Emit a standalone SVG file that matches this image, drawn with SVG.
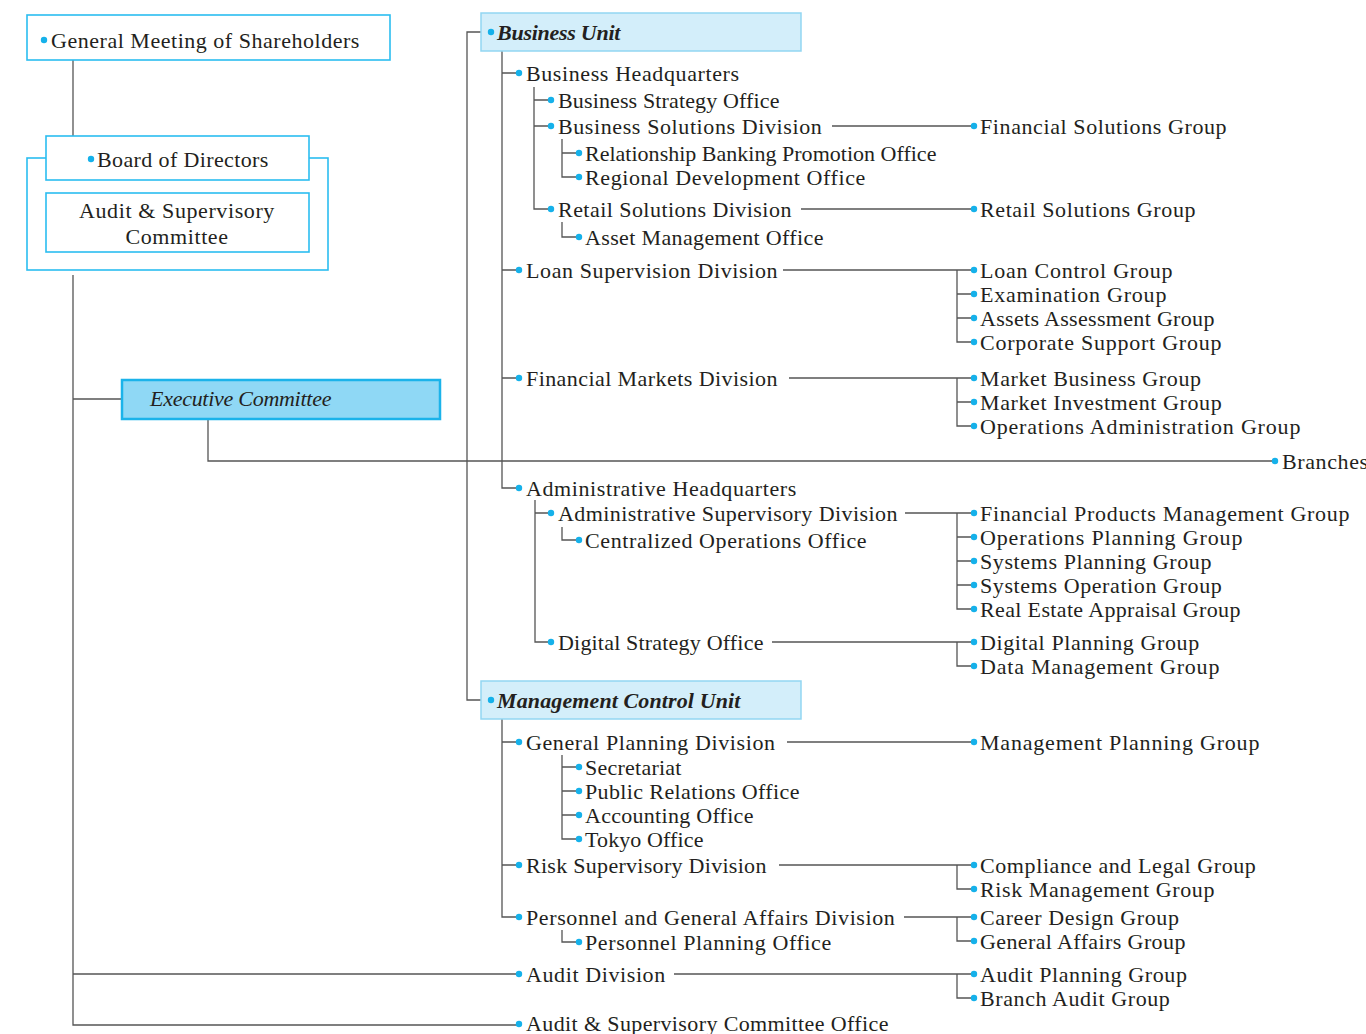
<svg xmlns="http://www.w3.org/2000/svg" width="1366" height="1034" viewBox="0 0 1366 1034">
<style>
text{font-family:"Liberation Serif","Times New Roman",serif;font-size:22px;fill:#231f20;letter-spacing:0.6px}
.ln{fill:none;stroke:#555;stroke-width:1.3}
.b{fill:#15b1ea}
.box{fill:#fff;stroke:#2bbdf0;stroke-width:1.6}
.unit{fill:#d3eefa;stroke:#92d6f2;stroke-width:1.5}
.exec{fill:#8fd8f5;stroke:#1bb3ea;stroke-width:2.5}
.it{font-style:italic}
.bi{font-style:italic;font-weight:bold}
</style>
<rect width="1366" height="1034" fill="#fff"/>
<g id="connectors" class="ln">
<path d="M73 60V136"/>
<path d="M73 275V1025H517M73 974H517M73 399H122"/>
<path d="M208 419V461H1272"/>
<path d="M481 32H467V700H481"/>
<path d="M502 51V488H517M502 73H517M502 270H517M502 378H517"/>
<path d="M534 87V209H549M534 100H549M534 126H549"/>
<path d="M562 139V177H577M562 153H577"/>
<path d="M562 222V237H577"/>
<path d="M832 126H972M801 209H972"/>
<path d="M783 270H972M957 270V342H972M957 294H972M957 318H972"/>
<path d="M789 378H972M957 378V426H972M957 402H972"/>
<path d="M535 500V642H549M535 513H549"/>
<path d="M562 527V540H577"/>
<path d="M905 513H972M957 513V609H972M957 537H972M957 561H972M957 585H972"/>
<path d="M772 642H972M957 642V666H972"/>
<path d="M502 719V917H517M502 742H517M502 865H517"/>
<path d="M562 755V839H577M562 767H577M562 791H577M562 815H577"/>
<path d="M787 742H972"/>
<path d="M779 865H972M957 865V889H972"/>
<path d="M904 917H972M957 917V941H972"/>
<path d="M562 930V942H577"/>
<path d="M674 974H972M957 974V998H972"/>
</g>
<g id="gms"><rect class="box" x="27" y="15" width="363" height="45"/><circle class="b" cx="44" cy="40" r="3.2"/><text x="51" y="47.5" textLength="309">General Meeting of Shareholders</text></g>
<g id="board-group"><rect class="box" x="27" y="158" width="301" height="112"/></g>
<g id="bod"><rect class="box" x="46" y="136" width="263" height="44"/><circle class="b" cx="91" cy="159" r="3.2"/><text x="97" y="166.5" textLength="172">Board of Directors</text></g>
<g id="asc"><rect class="box" x="46" y="193" width="263" height="59"/><text x="177" y="218" text-anchor="middle">Audit &amp; Supervisory</text><text x="177" y="244" text-anchor="middle">Committee</text></g>
<g id="exec"><rect class="exec" x="122" y="380" width="318" height="39"/><text class="it" x="150" y="405.5" textLength="182">Executive Committee</text></g>
<g id="branches"><circle class="b" cx="1275" cy="461" r="3.2"/><text x="1282" y="469">Branches</text></g>
<g id="business-unit"><rect class="unit" x="481" y="13" width="320" height="38"/><circle class="b" cx="491" cy="32" r="3.2"/><text class="bi" x="497" y="40" textLength="124">Business Unit</text></g>
<g id="mcu"><rect class="unit" x="481" y="681" width="320" height="38"/><circle class="b" cx="491" cy="700" r="3.2"/><text class="bi" x="497" y="708" textLength="244">Management Control Unit</text></g>
<g id="bhq"><circle class="b" cx="519" cy="73" r="3.2"/><text x="526" y="81">Business Headquarters</text></g>
<g id="bso"><circle class="b" cx="551" cy="100" r="3.2"/><text x="558" y="108" textLength="222">Business Strategy Office</text></g>
<g id="bsd"><circle class="b" cx="551" cy="126" r="3.2"/><text x="558" y="134">Business Solutions Division</text></g>
<g id="rbpo"><circle class="b" cx="579" cy="153" r="3.2"/><text x="585" y="161" textLength="352">Relationship Banking Promotion Office</text></g>
<g id="rdo"><circle class="b" cx="579" cy="177" r="3.2"/><text x="585" y="185">Regional Development Office</text></g>
<g id="rsd"><circle class="b" cx="551" cy="209" r="3.2"/><text x="558" y="217" textLength="234">Retail Solutions Division</text></g>
<g id="amo"><circle class="b" cx="579" cy="237" r="3.2"/><text x="585" y="245" textLength="239">Asset Management Office</text></g>
<g id="lsd"><circle class="b" cx="519" cy="270" r="3.2"/><text x="526" y="278">Loan Supervision Division</text></g>
<g id="fmd"><circle class="b" cx="519" cy="378" r="3.2"/><text x="526" y="386" textLength="252">Financial Markets Division</text></g>
<g id="ahq"><circle class="b" cx="519" cy="488" r="3.2"/><text x="526" y="496">Administrative Headquarters</text></g>
<g id="asd"><circle class="b" cx="551" cy="513" r="3.2"/><text x="558" y="521" textLength="340">Administrative Supervisory Division</text></g>
<g id="coo"><circle class="b" cx="579" cy="540" r="3.2"/><text x="585" y="548">Centralized Operations Office</text></g>
<g id="dso"><circle class="b" cx="551" cy="642" r="3.2"/><text x="558" y="650" textLength="206">Digital Strategy Office</text></g>
<g id="gpd"><circle class="b" cx="519" cy="742" r="3.2"/><text x="526" y="750">General Planning Division</text></g>
<g id="sec"><circle class="b" cx="579" cy="767" r="3.2"/><text x="585" y="775" textLength="97">Secretariat</text></g>
<g id="pro"><circle class="b" cx="579" cy="791" r="3.2"/><text x="585" y="799" textLength="215">Public Relations Office</text></g>
<g id="acc"><circle class="b" cx="579" cy="815" r="3.2"/><text x="585" y="823" textLength="169">Accounting Office</text></g>
<g id="tko"><circle class="b" cx="579" cy="839" r="3.2"/><text x="585" y="847" textLength="119">Tokyo Office</text></g>
<g id="rskd"><circle class="b" cx="519" cy="865" r="3.2"/><text x="526" y="873" textLength="241">Risk Supervisory Division</text></g>
<g id="pgad"><circle class="b" cx="519" cy="917" r="3.2"/><text x="526" y="925">Personnel and General Affairs Division</text></g>
<g id="ppo"><circle class="b" cx="579" cy="942" r="3.2"/><text x="585" y="950">Personnel Planning Office</text></g>
<g id="ad"><circle class="b" cx="519" cy="974" r="3.2"/><text x="526" y="982">Audit Division</text></g>
<g id="asco"><circle class="b" cx="519" cy="1024" r="3.2"/><text x="526" y="1031" textLength="363">Audit &amp; Supervisory Committee Office</text></g>
<g id="fsg"><circle class="b" cx="974" cy="126" r="3.2"/><text x="980" y="134">Financial Solutions Group</text></g>
<g id="rsg"><circle class="b" cx="974" cy="209" r="3.2"/><text x="980" y="217">Retail Solutions Group</text></g>
<g id="lcg"><circle class="b" cx="974" cy="270" r="3.2"/><text x="980" y="278" textLength="193">Loan Control Group</text></g>
<g id="exg"><circle class="b" cx="974" cy="294" r="3.2"/><text x="980" y="302" textLength="187">Examination Group</text></g>
<g id="aag"><circle class="b" cx="974" cy="318" r="3.2"/><text x="980" y="326" textLength="235">Assets Assessment Group</text></g>
<g id="csg"><circle class="b" cx="974" cy="342" r="3.2"/><text x="980" y="350" textLength="242">Corporate Support Group</text></g>
<g id="mbg"><circle class="b" cx="974" cy="378" r="3.2"/><text x="980" y="386">Market Business Group</text></g>
<g id="mig"><circle class="b" cx="974" cy="402" r="3.2"/><text x="980" y="410">Market Investment Group</text></g>
<g id="oag"><circle class="b" cx="974" cy="426" r="3.2"/><text x="980" y="434" textLength="321">Operations Administration Group</text></g>
<g id="fpmg"><circle class="b" cx="974" cy="513" r="3.2"/><text x="980" y="521" textLength="370">Financial Products Management Group</text></g>
<g id="opg"><circle class="b" cx="974" cy="537" r="3.2"/><text x="980" y="545" textLength="263">Operations Planning Group</text></g>
<g id="spg"><circle class="b" cx="974" cy="561" r="3.2"/><text x="980" y="569">Systems Planning Group</text></g>
<g id="sog"><circle class="b" cx="974" cy="585" r="3.2"/><text x="980" y="593">Systems Operation Group</text></g>
<g id="reag"><circle class="b" cx="974" cy="609" r="3.2"/><text x="980" y="617" textLength="261">Real Estate Appraisal Group</text></g>
<g id="dpg"><circle class="b" cx="974" cy="642" r="3.2"/><text x="980" y="650">Digital Planning Group</text></g>
<g id="dmg"><circle class="b" cx="974" cy="666" r="3.2"/><text x="980" y="674" textLength="240">Data Management Group</text></g>
<g id="mpg"><circle class="b" cx="974" cy="742" r="3.2"/><text x="980" y="750" textLength="280">Management Planning Group</text></g>
<g id="clg"><circle class="b" cx="974" cy="865" r="3.2"/><text x="980" y="873">Compliance and Legal Group</text></g>
<g id="rmg"><circle class="b" cx="974" cy="889" r="3.2"/><text x="980" y="897">Risk Management Group</text></g>
<g id="cdg"><circle class="b" cx="974" cy="917" r="3.2"/><text x="980" y="925">Career Design Group</text></g>
<g id="gag"><circle class="b" cx="974" cy="941" r="3.2"/><text x="980" y="949" textLength="206">General Affairs Group</text></g>
<g id="apg"><circle class="b" cx="974" cy="974" r="3.2"/><text x="980" y="982">Audit Planning Group</text></g>
<g id="bag"><circle class="b" cx="974" cy="998" r="3.2"/><text x="980" y="1006">Branch Audit Group</text></g>
</svg>
